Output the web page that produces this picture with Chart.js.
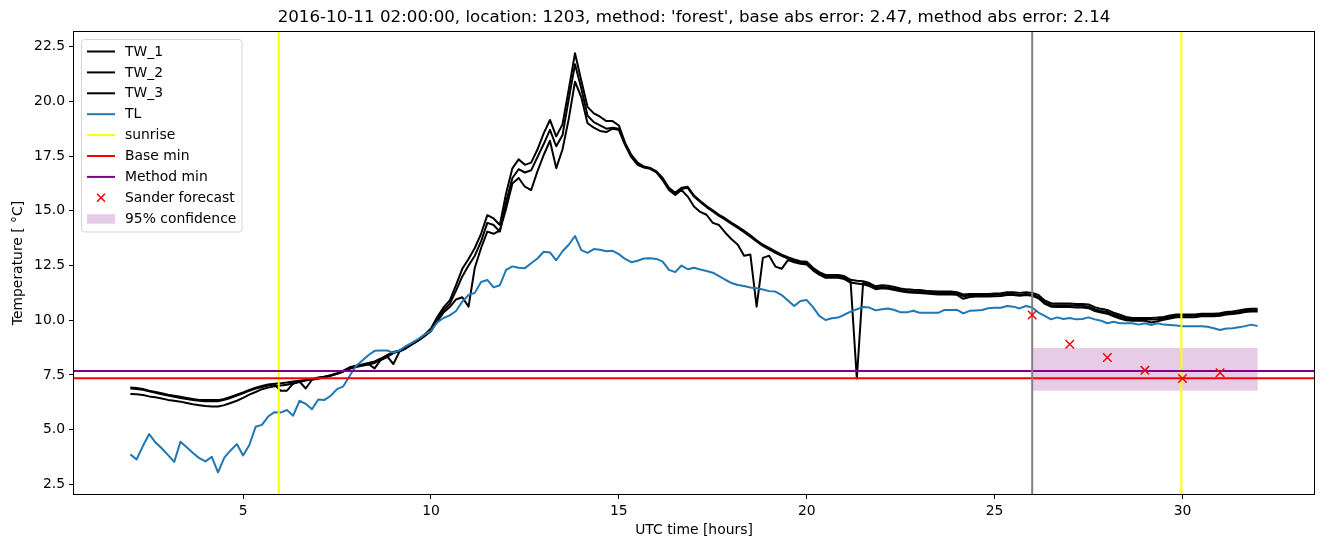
<!DOCTYPE html>
<html>
<head>
<meta charset="utf-8">
<title>Sander forecast 2016-10-11</title>
<script src="https://cdn.jsdelivr.net/npm/chart.js@4.4.1/dist/chart.umd.min.js"></script>
<style>
  html, body { margin: 0; padding: 0; background: #fff; }
  #wrap { width: 1324px; height: 547px; }
</style>
</head>
<body>
<div id="wrap"><canvas id="chart" width="1324" height="547"></canvas></div>
<script>
// -------------------------
// Data
// -------------------------
const START_HOUR = 2;   // first sample (UTC hours)
const STEP_MIN = 10;    // one sample every 10 minutes

const TW_1 = [
  6.93, 6.90, 6.86, 6.78, 6.72, 6.66, 6.60, 6.55, 6.50, 6.45,
  6.40, 6.36, 6.35, 6.35, 6.35, 6.40, 6.50, 6.60, 6.70, 6.82,
  6.92, 7.00, 7.06, 7.10, 7.12, 7.15, 7.20, 7.24, 7.27, 7.32,
  7.38, 7.42, 7.49, 7.58, 7.70, 7.85, 7.92, 7.98, 8.05, 8.12,
  8.25, 8.40, 8.55, 8.62, 8.75, 8.95, 9.12, 9.35, 9.62, 10.15,
  10.58, 10.90, 11.60, 12.35, 12.80, 13.30, 13.95, 14.80, 14.65, 14.35,
  15.80, 16.94, 17.35, 17.10, 17.20, 17.80, 18.54, 19.15, 18.40, 18.95,
  20.55, 22.20, 20.95, 19.75, 19.45, 19.30, 19.10, 19.10, 18.90, 18.10,
  17.55, 17.20, 17.02, 16.96, 16.80, 16.50, 16.05, 15.82, 16.05, 16.10,
  15.70, 15.45, 15.22, 15.02, 14.82, 14.65, 14.45, 14.28, 14.08, 13.88,
  13.65, 13.45, 13.30, 13.15, 13.00, 12.88, 12.78, 12.70, 12.67, 12.40,
  12.20, 12.07, 12.07, 12.07, 12.02, 11.85, 11.80, 11.78, 11.70, 11.55,
  11.60, 11.58, 11.52, 11.45, 11.41, 11.39, 11.38, 11.35, 11.33, 11.31,
  11.31, 11.31, 11.28, 11.18, 11.20, 11.20, 11.20, 11.20, 11.22, 11.23,
  11.28, 11.28, 11.25, 11.28, 11.25, 11.15, 10.90, 10.78, 10.76, 10.76,
  10.76, 10.74, 10.74, 10.72, 10.60, 10.52, 10.47, 10.35, 10.25, 10.15,
  10.10, 10.10, 10.10, 10.10, 10.12, 10.15, 10.22, 10.26, 10.26, 10.26,
  10.26, 10.30, 10.30, 10.30, 10.32, 10.38, 10.40, 10.45, 10.50, 10.52, 10.52
];

const TW_2 = [
  6.88, 6.86, 6.82, 6.75, 6.68, 6.62, 6.56, 6.50, 6.45, 6.40,
  6.36, 6.32, 6.30, 6.30, 6.30, 6.36, 6.45, 6.56, 6.66, 6.78,
  6.88, 6.95, 7.02, 7.06, 6.78, 6.78, 7.10, 7.20, 6.88, 7.28,
  7.33, 7.40, 7.46, 7.55, 7.66, 7.80, 7.88, 7.95, 8.00, 7.80,
  8.20, 8.35, 8.00, 8.58, 8.72, 8.92, 9.08, 9.28, 9.55, 10.05,
  10.45, 10.75, 11.35, 12.00, 12.50, 12.95, 13.60, 14.45, 14.35, 14.05,
  15.40, 16.50, 16.90, 16.75, 16.85, 17.45, 18.05, 18.70, 17.95, 18.45,
  20.10, 21.70, 20.60, 19.35, 19.05, 18.90, 18.75, 18.80, 18.75, 18.05,
  17.50, 17.15, 17.00, 16.94, 16.78, 16.45, 16.00, 15.78, 16.00, 16.05,
  15.65, 15.40, 15.17, 14.97, 14.77, 14.60, 14.40, 14.22, 14.02, 13.82,
  13.60, 13.40, 13.24, 13.08, 12.94, 12.82, 12.72, 12.64, 12.60, 12.33,
  12.13, 12.00, 12.00, 12.00, 11.95, 11.78, 7.34, 11.70, 11.62, 11.48,
  11.52, 11.50, 11.44, 11.38, 11.34, 11.32, 11.30, 11.28, 11.26, 11.24,
  11.24, 11.24, 11.22, 11.10, 11.13, 11.14, 11.14, 11.14, 11.16, 11.17,
  11.20, 11.20, 11.17, 11.20, 11.17, 11.05, 10.82, 10.70, 10.68, 10.68,
  10.68, 10.66, 10.66, 10.62, 10.50, 10.42, 10.38, 10.26, 10.16, 10.07,
  10.03, 10.03, 10.03, 10.03, 10.05, 10.08, 10.15, 10.20, 10.20, 10.20,
  10.20, 10.24, 10.24, 10.24, 10.26, 10.32, 10.34, 10.38, 10.44, 10.46, 10.46
];

const TW_3 = [
  6.63, 6.62, 6.58, 6.52, 6.48, 6.42, 6.36, 6.32, 6.28, 6.22,
  6.16, 6.12, 6.08, 6.06, 6.06, 6.12, 6.22, 6.32, 6.45, 6.60,
  6.72, 6.85, 6.92, 6.98, 7.02, 7.05, 7.12, 7.18, 7.24, 7.30,
  7.36, 7.42, 7.48, 7.55, 7.66, 7.78, 7.86, 7.92, 7.98, 8.05,
  8.18, 8.32, 8.50, 8.58, 8.72, 8.90, 9.08, 9.28, 9.50, 9.95,
  10.35, 10.60, 10.95, 11.05, 10.62, 12.40, 13.30, 14.05, 13.95, 14.10,
  15.10, 16.25, 16.50, 16.10, 15.95, 16.80, 17.55, 18.20, 16.95, 17.80,
  19.20, 20.90, 20.20, 19.00, 18.80, 18.65, 18.60, 18.75, 18.70, 18.00,
  17.45, 17.10, 16.98, 16.92, 16.76, 16.40, 15.95, 15.72, 15.95, 15.65,
  15.20, 14.95, 14.82, 14.45, 14.35, 14.00, 13.70, 13.45, 12.95, 13.00,
  10.62, 12.85, 12.95, 12.45, 12.35, 12.75, 12.65, 12.58, 12.55, 12.28,
  12.08, 11.94, 11.94, 11.94, 11.88, 11.72, 11.68, 11.64, 11.56, 11.42,
  11.46, 11.44, 11.38, 11.32, 11.28, 11.26, 11.24, 11.22, 11.20, 11.18,
  11.18, 11.18, 11.16, 10.98, 11.06, 11.08, 11.08, 11.08, 11.10, 11.11,
  11.15, 11.15, 11.12, 11.15, 11.12, 11.00, 10.75, 10.62, 10.60, 10.60,
  10.60, 10.58, 10.58, 10.55, 10.42, 10.35, 10.30, 10.18, 10.08, 10.00,
  9.98, 9.98, 9.98, 9.90, 9.95, 10.02, 10.08, 10.14, 10.14, 10.14,
  10.14, 10.18, 10.18, 10.18, 10.20, 10.26, 10.28, 10.32, 10.38, 10.40, 10.40
];

const TL = [
  3.87, 3.64, 4.25, 4.80, 4.42, 4.15, 3.85, 3.53, 4.45, 4.20,
  3.93, 3.70, 3.55, 3.76, 3.05, 3.72, 4.05, 4.34, 3.82, 4.30,
  5.13, 5.22, 5.60, 5.80, 5.78, 5.90, 5.64, 6.32, 6.18, 5.93,
  6.38, 6.36, 6.55, 6.85, 6.98, 7.45, 7.90, 8.15, 8.40, 8.60,
  8.62, 8.62, 8.52, 8.62, 8.82, 8.98, 9.15, 9.35, 9.52, 9.90,
  10.10, 10.22, 10.42, 10.85, 11.15, 11.25, 11.75, 11.84, 11.50, 11.60,
  12.30, 12.46, 12.40, 12.38, 12.60, 12.82, 13.13, 13.10, 12.74, 13.15,
  13.45, 13.85, 13.20, 13.08, 13.25, 13.22, 13.15, 13.17, 13.02, 12.80,
  12.65, 12.72, 12.82, 12.83, 12.80, 12.68, 12.30, 12.20, 12.50, 12.33,
  12.40, 12.32, 12.25, 12.17, 12.02, 11.85, 11.70, 11.61, 11.56, 11.50,
  11.46, 11.40, 11.33, 11.31, 11.15, 10.90, 10.65, 10.88, 10.92, 10.60,
  10.20, 10.01, 10.09, 10.12, 10.25, 10.39, 10.50, 10.60, 10.58, 10.45,
  10.50, 10.54, 10.47, 10.36, 10.36, 10.43, 10.34, 10.34, 10.34, 10.34,
  10.47, 10.47, 10.47, 10.31, 10.43, 10.45, 10.47, 10.55, 10.57, 10.57,
  10.65, 10.62, 10.54, 10.65, 10.58, 10.35, 10.20, 10.04, 10.13, 10.06,
  10.10, 10.04, 10.06, 10.13, 10.04, 9.98, 9.86, 9.93, 9.86, 9.86,
  9.86, 9.80, 9.86, 9.78, 9.86, 9.80, 9.78, 9.76, 9.73, 9.73,
  9.73, 9.72, 9.70, 9.63, 9.55, 9.62, 9.63, 9.68, 9.73, 9.80, 9.73
];

const SANDER_HOURS = [26, 27, 28, 29, 30, 31];
const SANDER_TEMPS = [10.24, 8.90, 8.30, 7.71, 7.34, 7.60];

const SUNRISE_HOURS = [5.95, 29.97];
const FORECAST_START = 26;
const BASE_MIN = 7.35;
const METHOD_MIN = 7.68;
const CONF_HOURS = [26, 32];
const CONF_RANGE = [6.78, 8.73];

const X_TICKS = [5, 10, 15, 20, 25, 30];
const Y_TICKS = [2.5, 5, 7.5, 10, 12.5, 15, 17.5, 20, 22.5];
const X_RANGE = [0.5, 33.5];
const Y_RANGE = [2.06, 23.17];

const TITLE = "2016-10-11 02:00:00, location: 1203, method: 'forest', base abs error: 2.47, method abs error: 2.14";
const X_LABEL = "UTC time [hours]";
const Y_LABEL = "Temperature [ \u00B0C]";

// -------------------------
// Helpers
// -------------------------
const FONT = "'DejaVu Sans', 'Liberation Sans', sans-serif";
const HOURS = TL.map((_, i) => START_HOUR + i * STEP_MIN / 60);
function pts(arr){ return arr.map((v, i) => ({ x: HOURS[i], y: v })); }

const COLORS = {
  tw: "#000000",
  tl: "#1f77b4",
  sunrise: "#ffff00",
  base: "#ff0000",
  method: "#800080",
  forecast: "#808080",
  sander: "#ff0000",
  band: "rgba(128,0,128,0.2)"
};

// -------------------------
// Plugins: band, ax lines, frame, texts, legend
// -------------------------
const bandPlugin = {
  id: "band",
  beforeDatasetsDraw(chart){
    const { ctx, chartArea: a, scales: { x, y } } = chart;
    const x0 = x.getPixelForValue(CONF_HOURS[0]);
    const x1 = x.getPixelForValue(CONF_HOURS[1]);
    const y0 = y.getPixelForValue(CONF_RANGE[1]);
    const y1 = y.getPixelForValue(CONF_RANGE[0]);
    ctx.save();
    ctx.beginPath(); ctx.rect(a.left, a.top, a.right - a.left, a.bottom - a.top); ctx.clip();
    ctx.fillStyle = COLORS.band;
    ctx.fillRect(x0, y0, x1 - x0, y1 - y0);
    ctx.restore();
  }
};

// vertical / horizontal lines, drawn right after TL (dataset index 3)
const axLinesPlugin = {
  id: "axLines",
  afterDatasetDraw(chart, args){
    if (args.index !== 3) return;
    const { ctx, chartArea: a, scales: { x, y } } = chart;
    ctx.save();
    ctx.beginPath(); ctx.rect(a.left, a.top, a.right - a.left, a.bottom - a.top); ctx.clip();
    ctx.lineWidth = 2;
    const vline = (h, c) => {
      const px = x.getPixelForValue(h);
      ctx.strokeStyle = c; ctx.beginPath(); ctx.moveTo(px, a.top); ctx.lineTo(px, a.bottom); ctx.stroke();
    };
    const hline = (v, c) => {
      const py = y.getPixelForValue(v);
      ctx.strokeStyle = c; ctx.beginPath(); ctx.moveTo(a.left, py); ctx.lineTo(a.right, py); ctx.stroke();
    };
    SUNRISE_HOURS.forEach(h => vline(h, COLORS.sunrise));
    hline(BASE_MIN, COLORS.base);
    hline(METHOD_MIN, COLORS.method);
    vline(FORECAST_START, COLORS.forecast);
    ctx.restore();
  }
};

const LEGEND = [
  { label: "TW_1", type: "line", color: COLORS.tw },
  { label: "TW_2", type: "line", color: COLORS.tw },
  { label: "TW_3", type: "line", color: COLORS.tw },
  { label: "TL", type: "line", color: COLORS.tl },
  { label: "sunrise", type: "line", color: COLORS.sunrise },
  { label: "Base min", type: "line", color: COLORS.base },
  { label: "Method min", type: "line", color: COLORS.method },
  { label: "Sander forecast", type: "cross", color: COLORS.sander },
  { label: "95% confidence", type: "patch", color: COLORS.band }
];

function roundRect(ctx, x, y, w, h, r){
  ctx.beginPath();
  ctx.moveTo(x + r, y);
  ctx.lineTo(x + w - r, y); ctx.arcTo(x + w, y, x + w, y + r, r);
  ctx.lineTo(x + w, y + h - r); ctx.arcTo(x + w, y + h, x + w - r, y + h, r);
  ctx.lineTo(x + r, y + h); ctx.arcTo(x, y + h, x, y + h - r, r);
  ctx.lineTo(x, y + r); ctx.arcTo(x, y, x + r, y, r);
  ctx.closePath();
}

const decorPlugin = {
  id: "decor",
  afterDraw(chart){
    const { ctx, chartArea: a } = chart;
    ctx.save();
    // frame
    ctx.strokeStyle = "#000"; ctx.lineWidth = 1;
    ctx.strokeRect(Math.round(a.left) - 0.5, Math.round(a.top) - 0.5,
                   Math.round(a.right - a.left) + 1, Math.round(a.bottom - a.top) + 1);

    // texts
    ctx.fillStyle = "#000";
    ctx.textAlign = "center"; ctx.textBaseline = "middle";
    ctx.font = "16.7px " + FONT;
    ctx.fillText(TITLE, (a.left + a.right) / 2, 18);
    ctx.font = "13.9px " + FONT;
    ctx.fillText(X_LABEL, (a.left + a.right) / 2, 530);
    ctx.save();
    ctx.translate(18, (a.top + a.bottom) / 2);
    ctx.rotate(-Math.PI / 2);
    ctx.fillText(Y_LABEL, 0, 0);
    ctx.restore();

    // legend
    const bx = 81.5, by = 39.5, bw = 160.5, bh = 192.5;
    roundRect(ctx, bx, by, bw, bh, 3);
    ctx.fillStyle = "rgba(255,255,255,0.8)"; ctx.fill();
    ctx.strokeStyle = "#d5d5d5"; ctx.lineWidth = 1; ctx.stroke();
    ctx.textAlign = "left"; ctx.textBaseline = "middle";
    LEGEND.forEach((it, k) => {
      const cy = 51.5 + k * 20.9;
      if (it.type === "line"){
        ctx.strokeStyle = it.color; ctx.lineWidth = 2;
        ctx.beginPath(); ctx.moveTo(87, cy); ctx.lineTo(115, cy); ctx.stroke();
      } else if (it.type === "cross"){
        ctx.strokeStyle = it.color; ctx.lineWidth = 1.5;
        ctx.beginPath();
        ctx.moveTo(97, cy - 4); ctx.lineTo(105, cy + 4);
        ctx.moveTo(97, cy + 4); ctx.lineTo(105, cy - 4);
        ctx.stroke();
      } else {
        ctx.fillStyle = it.color; ctx.fillRect(87, cy - 4.5, 28, 9.5);
      }
      ctx.fillStyle = "#000";
      ctx.fillText(it.label, 125, cy + 0.5);
    });
    ctx.restore();
  }
};

// -------------------------
// Chart
// -------------------------
const lineDs = (label, arr, color, order) => ({
  label, data: pts(arr), borderColor: color, backgroundColor: color,
  borderWidth: 2, pointRadius: 0, tension: 0, fill: false,
  borderJoinStyle: "round", order
});

const tickFont = { family: FONT, size: 13.9 };

new Chart(document.getElementById("chart"), {
  type: "line",
  data: {
    datasets: [
      lineDs("TW_1", TW_1, COLORS.tw, 5),
      lineDs("TW_2", TW_2, COLORS.tw, 4),
      lineDs("TW_3", TW_3, COLORS.tw, 3),
      lineDs("TL", TL, COLORS.tl, 2),
      {
        label: "Sander forecast",
        data: SANDER_HOURS.map((h, i) => ({ x: h, y: SANDER_TEMPS[i] })),
        showLine: false, pointStyle: "crossRot", pointRadius: 6,
        pointBorderWidth: 1.5, borderColor: COLORS.sander, backgroundColor: COLORS.sander,
        order: 1
      }
    ]
  },
  options: {
    responsive: false,
    devicePixelRatio: 1,
    animation: false,
    layout: { padding: { left: 0, right: 10, top: 32, bottom: 0 } },
    plugins: { legend: { display: false }, title: { display: false }, tooltip: { enabled: false } },
    scales: {
      x: {
        type: "linear", min: X_RANGE[0], max: X_RANGE[1],
        afterFit(s){ s.height = 53; },
        afterBuildTicks(s){ s.ticks = X_TICKS.map(v => ({ value: v })); },
        grid: { drawOnChartArea: false, drawTicks: true, tickLength: 5, color: "#000", lineWidth: 1 },
        border: { display: false },
        ticks: { font: tickFont, color: "#000", padding: 4, maxRotation: 0, callback: v => String(v) }
      },
      y: {
        type: "linear", min: Y_RANGE[0], max: Y_RANGE[1],
        afterFit(s){ s.width = 74; },
        afterBuildTicks(s){ s.ticks = Y_TICKS.map(v => ({ value: v })); },
        grid: { drawOnChartArea: false, drawTicks: true, tickLength: 5, color: "#000", lineWidth: 1 },
        border: { display: false },
        ticks: { font: tickFont, color: "#000", padding: 4, callback: v => Number(v).toFixed(1) }
      }
    }
  },
  plugins: [bandPlugin, axLinesPlugin, decorPlugin]
});
</script>
</body>
</html>
